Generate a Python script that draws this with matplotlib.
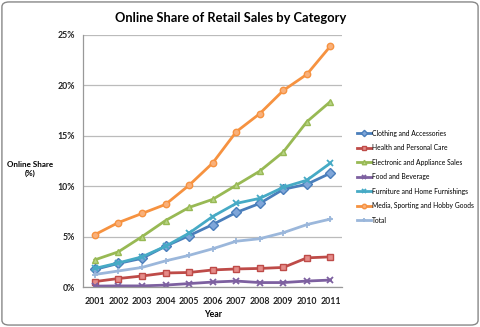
import matplotlib
matplotlib.use('Agg')
import matplotlib.pyplot as plt
from matplotlib.patches import FancyBboxPatch

# data (percent)
years = ['2001', '2002', '2003', '2004', '2005', '2006', '2007', '2008', '2009', '2010', '2011']
clothing = [1.75, 2.35, 2.85, 4.05, 5.1, 6.2, 7.4, 8.3, 9.7, 10.2, 11.3]
health = [0.55, 0.85, 1.1, 1.4, 1.45, 1.7, 1.8, 1.85, 1.95, 2.9, 3.0]
electronic = [2.7, 3.5, 5.0, 6.6, 7.9, 8.7, 10.1, 11.5, 13.4, 16.4, 18.4]
food = [0.1, 0.12, 0.12, 0.2, 0.35, 0.5, 0.6, 0.45, 0.45, 0.6, 0.7]
furniture = [1.85, 2.4, 3.0, 4.05, 5.35, 7.0, 8.3, 8.8, 9.9, 10.6, 12.3]
media = [5.2, 6.4, 7.3, 8.2, 10.1, 12.3, 15.4, 17.2, 19.5, 21.1, 23.9]
total = [1.25, 1.6, 1.95, 2.6, 3.15, 3.8, 4.55, 4.8, 5.4, 6.2, 6.75]
y_ticks = [0, 5, 10, 15, 20, 25]

series = [
    ('Clothing and Accessories', clothing, '#4A7EBB', 'D'),
    ('Health and Personal Care', health, '#BE4B48', 's'),
    ('Electronic and Appliance Sales', electronic, '#98B954', '^'),
    ('Food and Beverage', food, '#7D60A0', 'x'),
    ('Furniture and Home Furnishings', furniture, '#46AAC5', 'x'),
    ('Media, Sporting and Hobby Goods', media, '#F69240', 'o'),
    ('Total', total, '#9BB7DB', '+'),
]
marker_fill = {'D': '#7FA6D9', 's': '#E58C89', '^': '#B8D486', 'o': '#F9B07A'}

plt.rcParams['font.family'] = ['Lato', 'DejaVu Sans']

fig = plt.figure(figsize=(4.8, 3.27), dpi=100)
ax = fig.add_axes([0.173, 0.122, 0.540, 0.771])

x = list(range(len(years)))
for name, vals, col, mk in series:
    fill = marker_fill.get(mk, col)
    ms = 5 if mk in ('x', '+') else 4.6
    ax.plot(x, vals, color=col, lw=2.0, marker=mk, markersize=ms,
            markerfacecolor=fill, markeredgecolor=col,
            markeredgewidth=1.0 if mk not in ('x', '+') else 1.3, label=name)

ax.set_xlim(-0.5, len(years) - 0.5)
ax.set_ylim(0, 25)
ax.set_xticks(x)
ax.set_xticklabels(years, fontsize=6.3, fontweight='bold', color='#222222')
ax.set_yticks(y_ticks)
ax.set_yticklabels(['{}%'.format(v) for v in y_ticks], fontsize=6.3, fontweight='bold', color='#222222')
ax.tick_params(axis='y', length=0, pad=6)
ax.tick_params(axis='x', length=0, pad=7)
ax.yaxis.grid(True, color='#BBBBBB', lw=0.9)
ax.set_axisbelow(True)
for s in ['top', 'right']:
    ax.spines[s].set_visible(False)
for s in ['left', 'bottom']:
    ax.spines[s].set_color('#999999')
    ax.spines[s].set_linewidth(0.9)

ax.set_xlabel('Year', fontsize=6.3, fontweight='bold', labelpad=3)
fig.text(0.0625, 0.483, 'Online Share\n(%)', fontsize=5.8, fontweight='bold',
         ha='center', va='center', linespacing=1.4)
fig.text(0.48, 0.945, 'Online Share of Retail Sales by Category', fontsize=9.3,
         fontweight='bold', ha='center', va='center')

fig.legend(loc='upper left', bbox_to_anchor=(0.738, 0.612), frameon=False,
           fontsize=4.9, handlelength=2.1, handletextpad=0.1, labelspacing=1.1,
           borderaxespad=0, markerscale=0.7)

border = FancyBboxPatch((0.004, 0.006), 0.992, 0.988, boxstyle='round,pad=0,rounding_size=0.015',
                        transform=fig.transFigure, fill=False, edgecolor='#888888', lw=1.0)
fig.patches.append(border)

fig.savefig('out.png', dpi=100)
